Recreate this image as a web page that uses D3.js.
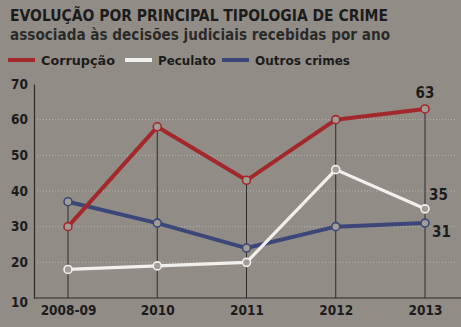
<!DOCTYPE html>
<html>
<head>
<meta charset="utf-8">
<script src="https://cdn.jsdelivr.net/npm/d3@7"></script>
<style>
  body { margin: 0; background: #928c86; }
  svg text { font-family: "DejaVu Sans Condensed", "DejaVu Sans", sans-serif; fill: #1c1c1c; }
</style>
</head>
<body>
<div id="chart"></div>
<script>
// Chart data
const years = ["2008-09", "2010", "2011", "2012", "2013"];
const corrupcao = [30, 58, 43, 60, 63];
const peculato = [18, 19, 20, 46, 35];
const outros = [37, 31, 24, 30, 31];
const yTicks = [10, 20, 30, 40, 50, 60, 70];

const seriesNames = ["Corrupção", "Peculato", "Outros crimes"];
const seriesColors = ["#a3282b", "#f2f0ec", "#3b4779"];

const drawChart = () => {
  const width = 461;
  const height = 327;
  const bg = "#928c86";

  const series = [corrupcao, peculato, outros].map((values, i) => ({
    name: seriesNames[i],
    color: seriesColors[i],
    values: values
  }));

  const xScale = d3.scalePoint()
                   .domain(years)
                   .range([68, 425]);

  const yScale = d3.scaleLinear()
                   .domain([10, 70])
                   .range([298, 84]);

  const svg = d3.select("#chart")
                .append("svg")
                .attr("width", width)
                .attr("height", height);

  svg.append("rect")
     .attr("width", width)
     .attr("height", height)
     .attr("fill", bg);

  // title block
  svg.append("text")
     .attr("x", 10)
     .attr("y", 21)
     .attr("font-size", 16)
     .attr("font-weight", "bold")
     .attr("textLength", 378)
     .attr("lengthAdjust", "spacingAndGlyphs")
     .text("EVOLUÇÃO POR PRINCIPAL TIPOLOGIA DE CRIME");

  svg.append("text")
     .attr("x", 10)
     .attr("y", 40)
     .attr("font-size", 15.5)
     .attr("font-weight", "bold")
     .attr("fill-opacity", 0.9)
     .attr("textLength", 380)
     .attr("lengthAdjust", "spacingAndGlyphs")
     .text("associada às decisões judiciais recebidas por ano");

  // legend
  const legendX = [8, 125, 222];
  const legendW = [74, 58, 95];
  const legend = svg.selectAll(".legend")
                    .data(series)
                    .enter()
                    .append("g")
                    .attr("transform", (d, i) => `translate(${legendX[i]},60)`);

  legend.append("line")
        .attr("x1", 0)
        .attr("x2", 27)
        .attr("stroke", (d) => d.color)
        .attr("stroke-width", 4);

  legend.append("text")
        .attr("x", 33)
        .attr("y", 4.5)
        .attr("font-size", 13)
        .attr("font-weight", "bold")
        .attr("textLength", (d, i) => legendW[i])
        .attr("lengthAdjust", "spacingAndGlyphs")
        .text((d) => d.name);

  // dotted gridlines
  svg.selectAll(".grid")
     .data(yTicks.filter((t) => t > 10 && t < 70))
     .enter()
     .append("line")
     .attr("x1", 34)
     .attr("x2", 455)
     .attr("y1", (d) => yScale(d))
     .attr("y2", (d) => yScale(d))
     .attr("stroke", "#b8b2ab")
     .attr("stroke-width", 1)
     .attr("stroke-dasharray", "1,2");

  // drop lines from highest point
  svg.selectAll(".drop")
     .data(years)
     .enter()
     .append("line")
     .attr("x1", (d) => xScale(d))
     .attr("x2", (d) => xScale(d))
     .attr("y1", (d, i) => yScale(d3.max(series, (s) => s.values[i])))
     .attr("y2", yScale(10))
     .attr("stroke", "#2a2a2a")
     .attr("stroke-width", 1);

  // axes
  const yAxis = d3.axisLeft(yScale)
                  .tickValues(yTicks)
                  .tickSize(0)
                  .tickPadding(6);

  const yG = svg.append("g")
                .attr("transform", "translate(34,0)")
                .call(yAxis);
  yG.select(".domain").attr("stroke", "#2a2a2a").attr("stroke-width", 1.2);
  yG.selectAll("text")
    .attr("font-size", 13.5)
    .attr("font-weight", "bold")
    .attr("fill", "#1c1c1c")
    .attr("dy", (d) => d === 10 ? "0.62em" : "0.32em");

  const xAxis = d3.axisBottom(xScale)
                  .tickSize(0)
                  .tickPadding(7);

  const xG = svg.append("g")
                .attr("transform", `translate(0,${yScale(10)})`)
                .call(xAxis);
  xG.select(".domain")
    .attr("d", `M34,0H461`)
    .attr("stroke", "#2a2a2a")
    .attr("stroke-width", 1.2);
  xG.selectAll("text")
    .attr("font-size", 13.5)
    .attr("font-weight", "bold")
    .attr("fill", "#1c1c1c");

  // lines
  const line = d3.line()
                 .x((d, i) => xScale(years[i]))
                 .y((d) => yScale(d));

  const order = [series[2], series[1], series[0]];

  svg.selectAll(".series")
     .data(order)
     .enter()
     .append("path")
     .attr("d", (d) => line(d.values))
     .attr("fill", "none")
     .attr("stroke", (d) => d.color)
     .attr("stroke-width", (d) => d.name === "Peculato" ? 3.2 : 4)
     .attr("stroke-linejoin", "round");

  order.forEach((s) => {
    svg.selectAll(null)
       .data(s.values)
       .enter()
       .append("circle")
       .attr("cx", (d, i) => xScale(years[i]))
       .attr("cy", (d) => yScale(d))
       .attr("r", 4)
       .attr("fill", "#a29c96")
       .attr("stroke", s.color)
       .attr("stroke-width", 1.6);
  });

  // end labels
  const last = years[years.length - 1];
  svg.append("text")
     .attr("x", xScale(last))
     .attr("y", yScale(corrupcao[4]) - 11)
     .attr("text-anchor", "middle")
     .attr("font-size", 15)
     .attr("font-weight", "bold")
     .text(corrupcao[4]);

  svg.append("text")
     .attr("x", xScale(last) + 4)
     .attr("y", yScale(peculato[4]) - 9)
     .attr("font-size", 15)
     .attr("font-weight", "bold")
     .text(peculato[4]);

  svg.append("text")
     .attr("x", xScale(last) + 7)
     .attr("y", yScale(outros[4]) + 14)
     .attr("font-size", 15)
     .attr("font-weight", "bold")
     .text(outros[4]);
}

drawChart();
</script>
</body>
</html>
